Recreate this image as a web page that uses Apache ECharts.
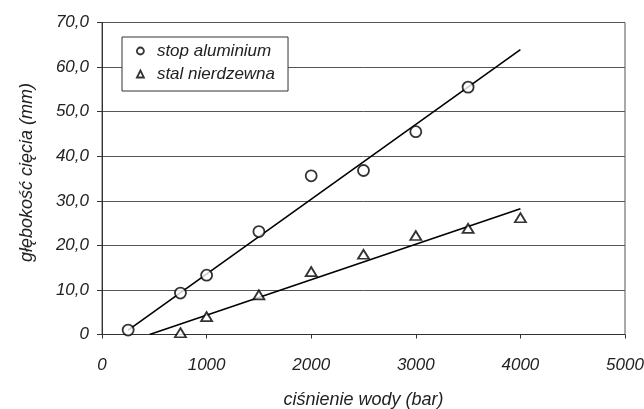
<!DOCTYPE html>
<html>
<head>
<meta charset="utf-8">
<script src="https://cdn.jsdelivr.net/npm/echarts@6/dist/echarts.min.js"></script>
<style>
  html, body { margin: 0; padding: 0; background: #fff; }
  #chart { width: 644px; height: 409px; }
</style>
</head>
<body>
<div id="chart"></div>
<script>
// Cutting depth vs. water pressure for two materials
const pressureAlu = [250, 750, 1000, 1500, 2000, 2500, 3000, 3500];
const depthAlu = [1.0, 9.3, 13.3, 23.1, 35.6, 36.8, 45.5, 55.5];

const pressureSteel = [750, 1000, 1500, 2000, 2500, 3000, 3500, 4000];
const depthSteel = [0.4, 4.0, 8.9, 14.1, 18.0, 22.2, 23.8, 26.2];

// Linear trend lines (end points)
const trendAluX = [250, 4000];
const trendAluY = [1.0, 63.9];
const trendSteelX = [455, 4000];
const trendSteelY = [0, 28.2];

const xTicks = [0, 1000, 2000, 3000, 4000, 5000];
const xTickLabels = ['0', '1000', '2000', '3000', '4000', '5000'];
const yTicks = [0, 10, 20, 30, 40, 50, 60, 70];
const yTickLabels = ['0', '10,0', '20,0', '30,0', '40,0', '50,0', '60,0', '70,0'];

const seriesNames = ['stop aluminium', 'stal nierdzewna'];
const xTitle = 'ciśnienie wody (bar)';
const yTitle = 'głębokość cięcia (mm)';

const pairs = (xs, ys) => xs.map((x, i) => [x, ys[i]]);
const labelFor = (ticks, labels) => v => {
  const i = ticks.indexOf(v);
  return i >= 0 ? labels[i] : '';
};

const FONT = '"Liberation Sans", Arial, sans-serif';
const markerStyle = { color: '#fff', borderColor: '#000', borderWidth: 1.8 };

const chart = echarts.init(document.getElementById('chart'), null, { renderer: 'canvas' });
chart.setOption({
  animation: false,
  backgroundColor: '#fff',
  textStyle: { fontFamily: FONT },
  grid: {
    left: 102, right: 19, top: 22.5, bottom: 74.5,
    containLabel: false, outerBoundsMode: 'none',
    show: true, borderColor: '#555', borderWidth: 1, backgroundColor: 'transparent'
  },
  legend: {
    data: seriesNames,
    orient: 'vertical',
    left: 122, top: 37,
    padding: [4, 13, 7, 14],
    itemGap: 3,
    itemWidth: 7, itemHeight: 7,
    backgroundColor: '#fff',
    borderColor: '#333', borderWidth: 1,
    textStyle: {
      fontFamily: FONT, fontStyle: 'italic', fontSize: 17, color: '#222',
      lineHeight: 20, padding: [0, 0, 0, 8]
    },
    itemStyle: { color: '#fff', borderColor: '#000', borderWidth: 1.8 }
  },
  xAxis: {
    type: 'value', min: 0, max: 5000, interval: 1000,
    name: xTitle, nameLocation: 'middle', nameGap: 56,
    nameTextStyle: { fontFamily: FONT, fontStyle: 'italic', fontSize: 18, color: '#222' },
    axisLine: { show: true, lineStyle: { color: '#333', width: 1 } },
    axisTick: { show: true, inside: false, length: 4, lineStyle: { color: '#333' } },
    axisLabel: {
      margin: 22, fontFamily: FONT, fontStyle: 'italic', fontSize: 17, color: '#222',
      formatter: labelFor(xTicks, xTickLabels)
    },
    splitLine: { show: false }
  },
  yAxis: {
    type: 'value', min: 0, max: 70, interval: 10,
    name: yTitle, nameLocation: 'middle', nameGap: 66, nameRotate: 90,
    nameTextStyle: { fontFamily: FONT, fontStyle: 'italic', fontSize: 18, color: '#222', padding: [0, 0, 0, 12] },
    axisLine: { show: true, lineStyle: { color: '#333', width: 1 } },
    axisTick: { show: true, inside: false, length: 5, lineStyle: { color: '#333' } },
    axisLabel: {
      margin: 13, fontFamily: FONT, fontStyle: 'italic', fontSize: 17, color: '#222',
      formatter: labelFor(yTicks, yTickLabels)
    },
    splitLine: { show: true, lineStyle: { color: '#555', width: 1 } }
  },
  series: [
    {
      name: 'trend-alu', type: 'line', data: pairs(trendAluX, trendAluY),
      symbol: 'none', silent: true, z: 2,
      lineStyle: { color: '#000', width: 1.6 }
    },
    {
      name: 'trend-steel', type: 'line', data: pairs(trendSteelX, trendSteelY),
      symbol: 'none', silent: true, z: 2,
      lineStyle: { color: '#000', width: 1.6 }
    },
    {
      name: seriesNames[0], type: 'scatter', data: pairs(pressureAlu, depthAlu),
      symbol: 'circle', symbolSize: 11, z: 3,
      itemStyle: markerStyle
    },
    {
      name: seriesNames[1], type: 'scatter', data: pairs(pressureSteel, depthSteel),
      symbol: 'triangle', symbolSize: [11, 9], z: 3,
      itemStyle: markerStyle
    }
  ]
});
</script>
</body>
</html>
